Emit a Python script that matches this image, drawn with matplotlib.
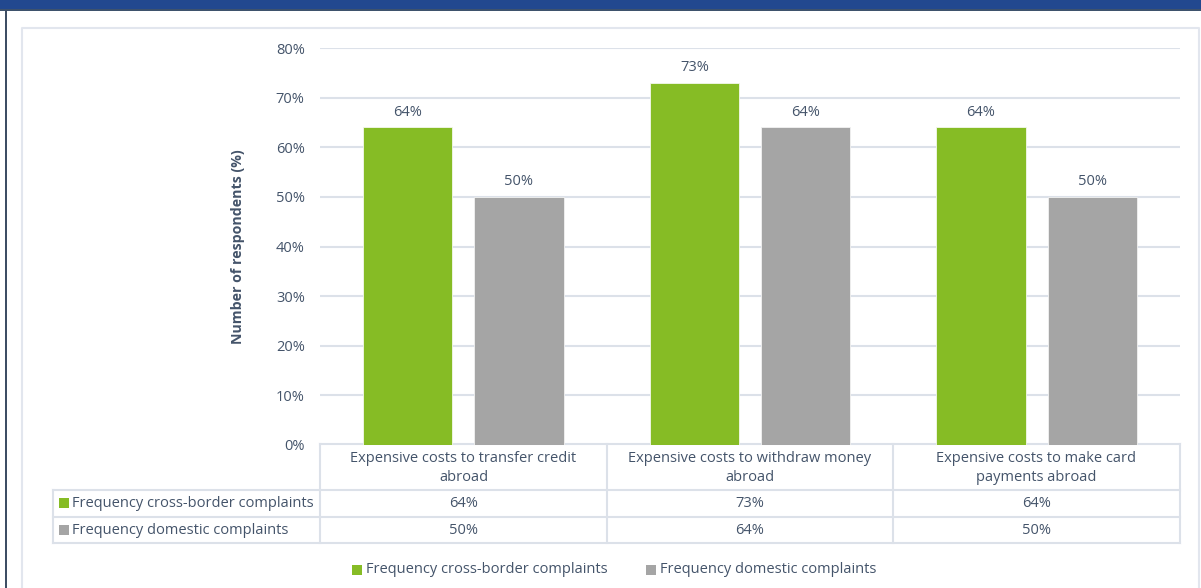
import matplotlib
matplotlib.use("Agg")
import matplotlib.pyplot as plt
from matplotlib.patches import Rectangle
from matplotlib.lines import Line2D

# --- data -------------------------------------------------------------
categories = [
    "Expensive costs to transfer credit\nabroad",
    "Expensive costs to withdraw money\nabroad",
    "Expensive costs to make card\npayments abroad",
]
series_names = ["Frequency cross-border complaints", "Frequency domestic complaints"]
cross_border = [0.64, 0.73, 0.64]
domestic = [0.50, 0.64, 0.50]
y_ticks = [0.0, 0.1, 0.2, 0.3, 0.4, 0.5, 0.6, 0.7, 0.8]
y_label = "Number of respondents (%)"

# --- style -------------------------------------------------------------
GREEN = "#86BC25"
GREY = "#A5A5A5"
TEXT = "#44546A"
GRID = "#DCE1E9"
FONT = "Open Sans"
FS = 10.5
plt.rcParams["font.family"] = [FONT, "DejaVu Sans"]

W, H = 1201, 588
fig = plt.figure(figsize=(W / 100, H / 100), dpi=100)
fig.patch.set_facecolor("white")

# overlay in pixel coordinates for the frame, table grid and legend
bg = fig.add_axes([0, 0, 1, 1], zorder=0)
bg.set_xlim(0, W)
bg.set_ylim(H, 0)
bg.axis("off")

# header band and borders
bg.add_patch(Rectangle((0, 0), W, 9, color="#22488F", lw=0))
bg.add_patch(Rectangle((0, 9), W, 1.5, color="#3E526C", lw=0))
bg.add_patch(Rectangle((5, 10), 2, H - 10, color="#3E4E64", lw=0))
bg.add_line(Line2D([21.5, 21.5, 1199, 1199], [H, 28, 28, H], color="#E2E6EE", lw=1.5))

# plot axes
x0, x1, ytop, ybot = 320, 1180, 48, 445
ax = fig.add_axes([x0 / W, 1 - ybot / H, (x1 - x0) / W, (ybot - ytop) / H], zorder=2)
ax.set_facecolor("none")
ax.set_xlim(-0.5, len(categories) - 0.5)
ax.set_ylim(0, 0.8)

bw = 0.312
off = 0.194
xs = list(range(len(categories)))
b1 = ax.bar([x - off for x in xs], cross_border, width=bw, color=GREEN,
            edgecolor="#F4F8EC", linewidth=0.6, zorder=3)
b2 = ax.bar([x + off for x in xs], domestic, width=bw, color=GREY,
            edgecolor="#F2F2F2", linewidth=0.6, zorder=3)
for bars, vals in ((b1, cross_border), (b2, domestic)):
    for rect, v in zip(bars, vals):
        ax.annotate(f"{v:.0%}", (rect.get_x() + rect.get_width() / 2, v),
                    xytext=(0, 11), textcoords="offset points",
                    ha="center", va="center", color=TEXT, fontsize=FS)

ax.set_yticks(y_ticks)
ax.set_yticklabels([f"{t:.0%}" for t in y_ticks], color=TEXT, fontsize=FS)
ax.tick_params(axis="y", length=0, pad=11)
ax.set_xticks([])
ax.yaxis.grid(True, color=GRID, lw=1.5, zorder=0)
ax.set_axisbelow(True)
for s in ax.spines.values():
    s.set_visible(False)
ax.set_ylabel(y_label, color=TEXT, fontsize=10.2, fontweight="bold")
ax.yaxis.set_label_coords(-0.087, 0.5)

# data table under the axes
col_edges = [320, 607, 893, 1180]
row_y = [444, 490, 517, 543]
lbl_x = 53
tl = dict(color=GRID, lw=1.5)
bg.add_line(Line2D([col_edges[0], col_edges[-1]], [row_y[0]] * 2, **tl))
for y in row_y[1:]:
    bg.add_line(Line2D([lbl_x, col_edges[-1]], [y, y], **tl))
for x in col_edges:
    bg.add_line(Line2D([x, x], [row_y[0], row_y[-1]], **tl))
bg.add_line(Line2D([lbl_x, lbl_x], [row_y[1], row_y[-1]], **tl))

for i, cat in enumerate(categories):
    cx = (col_edges[i] + col_edges[i + 1]) / 2
    bg.text(cx, (row_y[0] + row_y[1]) / 2 + 1, cat, ha="center", va="center",
            color=TEXT, fontsize=FS, linespacing=1.38)
    bg.text(cx, (row_y[1] + row_y[2]) / 2, f"{cross_border[i]:.0%}", ha="center",
            va="center", color=TEXT, fontsize=FS)
    bg.text(cx, (row_y[2] + row_y[3]) / 2, f"{domestic[i]:.0%}", ha="center",
            va="center", color=TEXT, fontsize=FS)

for r, (name, col) in enumerate(zip(series_names, (GREEN, GREY))):
    yc = (row_y[r + 1] + row_y[r + 2]) / 2
    bg.add_patch(Rectangle((59, yc - 5.5), 10, 10, color=col, lw=0))
    bg.text(72, yc, name, ha="left", va="center", color=TEXT, fontsize=FS)

# legend
for name, col, lx in zip(series_names, (GREEN, GREY), (352, 646)):
    bg.add_patch(Rectangle((lx, 564.5), 10, 10, color=col, lw=0))
    bg.text(lx + 14, 569.5, name, ha="left", va="center", color=TEXT, fontsize=FS)

fig.savefig("out.png", dpi=100, facecolor="white")
